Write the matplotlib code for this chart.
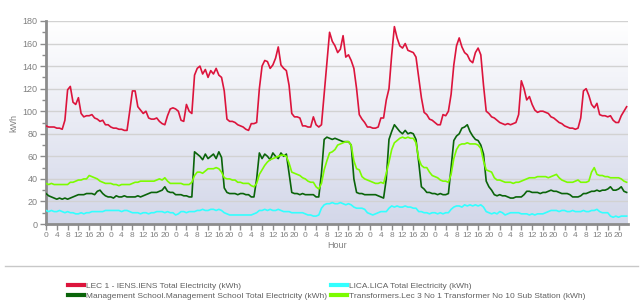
import matplotlib.pyplot as plt
import numpy as np
from matplotlib.colors import LinearSegmentedColormap
from matplotlib.lines import Line2D

# hourly readings, 9 days
lec = [87, 86, 86, 86, 85, 85, 84, 92, 119, 122, 108, 106, 112, 98, 95, 96, 96, 97, 94, 93, 91, 92, 88, 88,
       86, 85, 85, 84, 84, 83, 83, 100, 118, 118, 104, 101, 98, 100, 94, 93, 93, 94, 91, 89, 88, 96, 102, 103,
       102, 100, 92, 91, 106, 100, 98, 132, 138, 140, 133, 137, 130, 136, 133, 138, 132, 130, 118, 93, 91, 91, 90, 88,
       87, 86, 84, 83, 89, 89, 90, 120, 140, 145, 144, 138, 141, 147, 157, 141, 138, 136, 123, 98, 95, 95, 94, 87,
       87, 86, 86, 95, 88, 86, 88, 115, 141, 170, 162, 158, 152, 155, 167, 148, 150, 145, 138, 120, 97, 93, 90, 86,
       86, 85, 85, 86, 94, 94, 110, 120, 150, 175, 165, 158, 156, 160, 154, 153, 152, 148, 130, 112, 99, 97, 93, 92,
       90, 88, 88, 97, 96, 100, 115, 141, 158, 165, 157, 152, 150, 145, 143, 152, 156, 150, 123, 100, 98, 95, 94, 92,
       90, 89, 88, 89, 88, 89, 90, 97, 127, 120, 110, 113, 106, 101, 99, 100, 100, 99, 98, 95, 94, 92, 90, 89,
       87, 86, 85, 85, 84, 85, 94, 118, 120, 114, 106, 103, 107, 97, 96, 96, 95, 96, 92, 90, 90, 96, 100, 104]

lica = [12, 11, 12, 11, 11, 12, 11, 10, 11, 10, 10, 9, 9, 10, 9, 10, 10, 11, 11, 11, 11, 11, 12, 12,
        12, 12, 12, 12, 11, 12, 12, 11, 10, 10, 10, 9, 10, 10, 9, 10, 10, 11, 11, 11, 10, 11, 10, 10,
        8, 9, 11, 11, 10, 11, 11, 11, 12, 12, 13, 12, 12, 13, 13, 12, 13, 12, 10, 9, 8, 8, 8, 8,
        8, 8, 8, 8, 8, 9, 10, 12, 12, 13, 12, 13, 12, 12, 13, 12, 11, 11, 11, 10, 10, 10, 10, 10,
        9, 8, 8, 7, 7, 8, 14, 17, 18, 18, 19, 18, 18, 19, 18, 17, 18, 17, 15, 14, 14, 14, 13, 10,
        9, 8, 9, 10, 11, 11, 11, 14, 16, 15, 16, 15, 15, 16, 15, 15, 14, 14, 11, 11, 10, 10, 9, 10,
        10, 9, 10, 9, 10, 10, 13, 15, 16, 16, 15, 17, 16, 17, 16, 17, 16, 17, 15, 11, 10, 9, 10, 9,
        11, 10, 8, 9, 10, 10, 10, 10, 9, 9, 9, 8, 9, 8, 9, 9, 9, 10, 11, 12, 12, 12, 11, 12,
        12, 11, 11, 12, 11, 11, 11, 12, 11, 11, 12, 12, 13, 11, 10, 10, 10, 7, 6, 7, 6, 7, 7, 7]

mgmt = [27, 25, 24, 23, 22, 23, 22, 23, 22, 23, 24, 25, 26, 26, 26, 27, 27, 27, 26, 29, 30, 27, 25, 24,
        24, 23, 25, 24, 24, 25, 24, 24, 24, 24, 25, 24, 25, 26, 27, 28, 28, 28, 29, 30, 33, 29, 28, 28,
        26, 26, 26, 25, 25, 24, 24, 64, 62, 60, 57, 62, 58, 60, 62, 58, 64, 59, 32, 28, 27, 27, 27, 26,
        27, 27, 26, 26, 24, 24, 40, 63, 58, 62, 60, 57, 63, 60, 58, 63, 60, 62, 45, 28, 27, 27, 26, 27,
        26, 26, 26, 26, 24, 24, 45, 75, 77, 76, 75, 76, 75, 74, 73, 73, 73, 70, 40, 28, 27, 27, 26, 26,
        26, 26, 26, 25, 24, 23, 40, 75, 82, 88, 85, 82, 80, 83, 80, 81, 80, 75, 55, 33, 31, 28, 28, 27,
        27, 26, 27, 26, 26, 27, 50, 74, 78, 80, 85, 86, 88, 82, 78, 75, 74, 70, 62, 38, 33, 30, 26, 25,
        26, 25, 25, 24, 23, 23, 24, 24, 24, 26, 29, 29, 28, 28, 28, 27, 28, 28, 29, 30, 29, 29, 28, 27,
        27, 27, 26, 24, 24, 24, 25, 27, 27, 28, 29, 29, 30, 29, 30, 30, 31, 33, 30, 30, 31, 33, 29, 28]

trans = [36, 35, 36, 35, 35, 35, 35, 35, 35, 37, 37, 38, 39, 39, 40, 40, 43, 42, 41, 40, 38, 37, 36, 36,
         36, 35, 35, 34, 35, 35, 35, 35, 36, 37, 37, 38, 38, 38, 38, 38, 38, 39, 40, 39, 41, 38, 36, 36,
         36, 36, 36, 35, 35, 35, 37, 43, 46, 46, 45, 47, 49, 49, 49, 50, 49, 46, 41, 40, 40, 39, 39, 37,
         37, 36, 36, 36, 34, 33, 36, 44, 48, 52, 55, 57, 58, 59, 60, 61, 61, 60, 54, 46, 45, 44, 43, 41,
         40, 38, 37, 37, 33, 31, 36, 48, 56, 63, 64, 66, 70, 71, 72, 73, 73, 70, 56, 49, 48, 42, 40, 39,
         38, 37, 36, 36, 37, 36, 45, 55, 66, 72, 74, 76, 77, 76, 77, 76, 76, 72, 58, 52, 50, 50, 46, 43,
         42, 41, 39, 38, 38, 37, 44, 58, 66, 70, 71, 71, 72, 71, 71, 71, 70, 67, 56, 48, 47, 46, 41, 39,
         39, 38, 37, 37, 37, 36, 37, 37, 38, 39, 40, 41, 41, 41, 42, 42, 42, 42, 41, 42, 43, 44, 41, 39,
         38, 37, 37, 37, 38, 39, 37, 37, 37, 38, 46, 50, 44, 43, 43, 42, 42, 41, 41, 41, 41, 40, 38, 37]

labels = ['LEC 1 - IENS.IENS Total Electricity (kWh)',
          'LICA.LICA Total Electricity (kWh)',
          'Management School.Management School Total Electricity (kWh)',
          'Transformers.Lec 3 No 1 Transformer No 10 Sub Station (kWh)']
colors = ['#dc143c', '#33ffff', '#0a640a', '#7cfc00']

plt.rcParams['font.family'] = ['Liberation Sans', 'DejaVu Sans']
grey = '#808080'

hours = np.arange(len(lec))
fig = plt.figure(figsize=(6.44, 3.01), dpi=100)
ax = fig.add_axes([46 / 644, 77 / 301, 582 / 644, 203 / 301])

# background gradient white -> lavender
bg = LinearSegmentedColormap.from_list('bg', ['#ffffff', '#d3d7e9'])
ax.imshow(np.linspace(0, 1, 256).reshape(-1, 1), extent=[0, 215.5, 0, 180],
          aspect='auto', cmap=bg, origin='upper', zorder=0)

for series, lab, col in zip([lec, lica, mgmt, trans], labels, colors):
    ax.plot(hours, series, color=col, lw=1.2, label=lab, zorder=3)

ax.set_xlim(0, 215.5)
ax.set_ylim(0, 180)
ax.set_yticks(range(0, 181, 20))
ax.set_yticks(range(0, 181, 10), minor=True)
ax.set_xticks(range(0, 216, 4))
ax.set_xticklabels([str(h % 24) for h in range(0, 216, 4)])
ax.yaxis.grid(True, color='#d2d2d2', lw=1, zorder=1)
ax.set_axisbelow(True)

for s in ['top', 'right']:
    ax.spines[s].set_visible(False)
for s in ['left', 'bottom']:
    ax.spines[s].set_color('#8c8c8c')
    ax.spines[s].set_linewidth(2)
ax.tick_params(axis='both', which='major', length=4, width=1, color='#8c8c8c',
               labelsize=6.5, labelcolor=grey, pad=2)
ax.tick_params(axis='x', which='major', labelsize=6)
ax.tick_params(axis='y', which='minor', length=3, width=1, color='#8c8c8c')

ax.set_ylabel('kWh', fontsize=6.5, color=grey, labelpad=3)
ax.set_xlabel('Hour', fontsize=6.5, color=grey, labelpad=1)

fig.add_artist(Line2D([5 / 644, 638 / 644], [1 - 266 / 301] * 2, color='#c8c8c8', lw=1))

order = [0, 2, 1, 3]
handles = [Line2D([], [], color=colors[i], lw=3) for i in order]
leg = fig.legend(handles, [labels[i] for i in order], ncol=2, loc='upper left',
                 bbox_to_anchor=(64 / 644, 1 - 278 / 301), frameon=False, fontsize=6,
                 handlelength=1.9, handletextpad=0.3, columnspacing=0.4, labelspacing=0.3,
                 borderpad=0)
for t in leg.get_texts():
    t.set_color('#606060')

plt.savefig('out.png', dpi=100)
